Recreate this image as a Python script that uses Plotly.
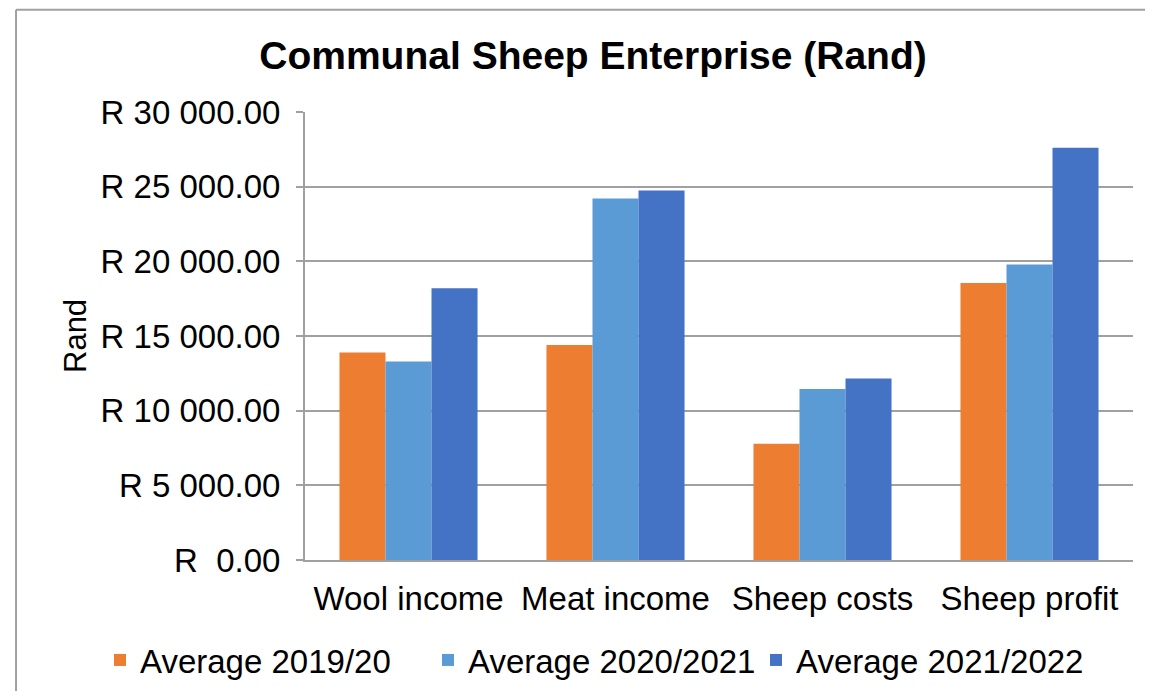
import plotly.graph_objects as go

categories = ["Wool income", "Meat income", "Sheep costs", "Sheep profit"]
series_names = ["Average 2019/20", "Average 2020/2021", "Average 2021/2022"]
avg_2019_20 = [13900, 14400, 7780, 18550]
avg_2020_21 = [13300, 24200, 11450, 19780]
avg_2021_22 = [18200, 24750, 12150, 27600]
colors = ["#ED7D31", "#5B9BD5", "#4472C4"]
tick_vals = [0, 5000, 10000, 15000, 20000, 25000, 30000]
tick_text = ["R\u00a0\u00a00.00", "R 5 000.00", "R 10 000.00", "R 15 000.00",
             "R 20 000.00", "R 25 000.00", "R 30 000.00"]

FONT = "Liberation Sans, Arial, sans-serif"
W, H = 1137, 683  # page body has an 8px margin

fig = go.Figure()
for name, vals, col in zip(series_names, [avg_2019_20, avg_2020_21, avg_2021_22], colors):
    fig.add_trace(go.Bar(x=categories, y=vals, name=name, marker_color=col,
                         marker_line_width=0))

fig.update_layout(
    width=W, height=H,
    margin=dict(l=297, r=12, t=104, b=131, autoexpand=False),
    paper_bgcolor="white", plot_bgcolor="white",
    font=dict(family=FONT, size=33, color="black"),
    barmode="group", bargap=0.333, bargroupgap=0,
    title=dict(text="<b>Communal Sheep Enterprise (Rand)</b>", x=585 / W, xanchor="center",
               y=1 - 47 / H, yanchor="middle", font=dict(family=FONT, size=39, color="black")),
    showlegend=True,
    legend=dict(orientation="h", xref="paper", x=(92 - 297) / 828, xanchor="left",
                yref="paper", y=-100 / 448, yanchor="middle",
                font=dict(family=FONT, size=33, color="black"), itemwidth=30,
                entrywidth=283, entrywidthmode="pixels",
                bgcolor="rgba(0,0,0,0)"),
    xaxis=dict(showgrid=False, showline=True, linecolor="#A0A0A0", linewidth=2,
               ticks="", tickfont=dict(size=33), automargin=False,
               ticklabelstandoff=8),
    yaxis=dict(range=[0, 30000], tickvals=tick_vals, ticktext=tick_text,
               showgrid=True, gridcolor="#A0A0A0", gridwidth=2,
               showline=True, linecolor="#A0A0A0", linewidth=2,
               ticks="outside", ticklen=7, tickcolor="#A0A0A0", tickwidth=2,
               ticklabelstandoff=9, zeroline=False, automargin=False),
    annotations=[dict(text="Rand", textangle=-90, xref="paper", yref="paper",
                      x=(75 - 305) / 828, y=0.5, xanchor="center", yanchor="middle",
                      showarrow=False, font=dict(family=FONT, size=31, color="black"))],
)

# outer chart border
fig.add_shape(type="line", xref="paper", yref="paper", x0=-0.349, x1=1.1,
              y0=1.228, y1=1.228, line=dict(color="#A0A0A0", width=2))
fig.add_shape(type="line", xref="paper", yref="paper", x0=-0.349, x1=-0.349,
              y0=1.228, y1=-0.4, line=dict(color="#A0A0A0", width=2))

fig.write_html("out.html")
